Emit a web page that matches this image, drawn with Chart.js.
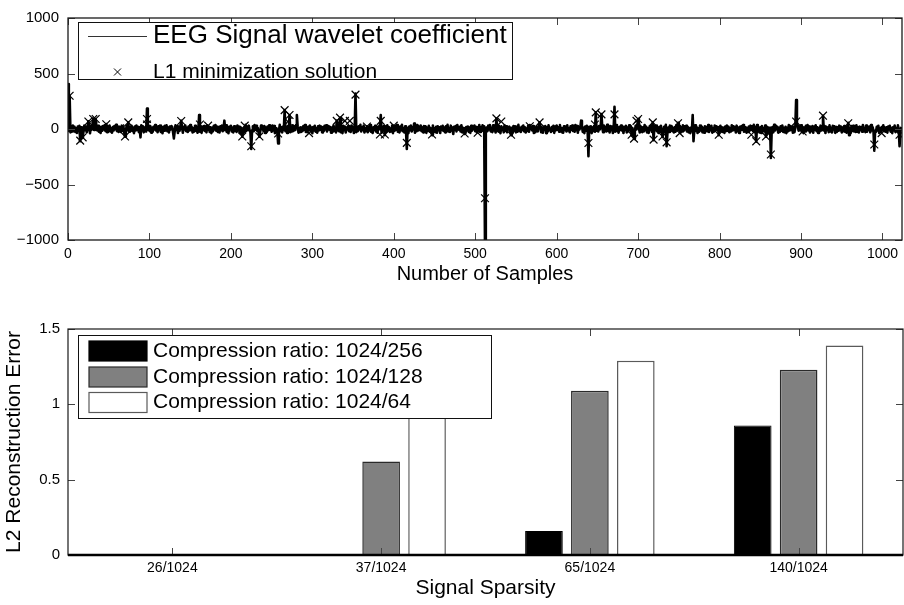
<!DOCTYPE html>
<html>
<head>
<meta charset="utf-8">
<script src="https://cdn.jsdelivr.net/npm/chart.js@4.4.0/dist/chart.umd.min.js"></script>
<style>
  body { margin: 0; background: #fff; }
  #wrap { position: relative; width: 904px; height: 605px; }
  canvas { position: absolute; left: 0; display: block; }
  #coefChart { top: 0; }
  #errChart { top: 290px; }
</style>
</head>
<body>
<div id="wrap">
  <canvas id="coefChart" width="904" height="290"></canvas>
  <canvas id="errChart" width="904" height="315"></canvas>
</div>
<script>
var FONT = "'Liberation Sans', Arial, Helvetica, sans-serif";

// ---- top plot: wavelet coefficients (1024 samples), the dense band around 0
var coefBand = [
  12,-18,25,-30,8,-22,31,-14, 19,-27,6,-35,22,-9,28,-20, 15,-33,10,-24,30,-11,21,-29, 4,-17,26,-38,13,-6,33,-21,
  -8,24,-31,17,-12,29,-25,9, -36,20,-15,27,-4,34,-19,11, -28,23,-10,32,-23,7,-34,18, -13,26,-2,37,-16,14,-27,21,
  9,-26,30,-15,23,-32,5,-20, 27,-11,36,-24,16,-7,29,-18, 12,-37,22,-14,31,-9,18,-28, 3,-21,34,-12,25,-30,8,-19,
  -22,14,-6,32,-17,26,-33,11, -25,20,-3,35,-13,18,-29,24, -10,30,-26,6,-38,19,-15,28, -8,33,-20,13,-31,22,-5,27,
  17,-29,11,-21,34,-8,24,-36, 7,-16,28,-25,14,-33,20,-4, 31,-19,9,-27,23,-13,35,-10, 18,-31,6,-23,29,-15,12,-34,
  -14,31,-24,8,-35,21,-9,26, -18,12,-30,33,-6,22,-27,15, -37,10,-21,28,-3,36,-16,19, -26,9,-32,24,-11,30,-20,5,
  21,-10,33,-27,14,-38,19,-5, 29,-22,11,-31,25,-16,7,-26, 32,-12,20,-35,16,-3,27,-24, 10,-29,37,-17,23,-8,30,-13,
  -30,16,-12,25,-20,35,-7,29, -15,9,-34,19,-24,31,-2,23, -18,27,-36,13,-28,21,-11,34, -6,18,-25,32,-14,26,-37,8,
  6,-24,28,-13,37,-20,15,-31, 22,-8,30,-19,10,-36,26,-15, 19,-28,4,-22,33,-17,25,-9, 36,-14,21,-33,11,-26,16,-5,
  -19,27,-5,36,-26,12,-29,20, -9,32,-21,14,-38,17,-12,28, -24,6,-33,25,-14,30,-7,22, -31,15,-18,29,-3,34,-23,10,
  26,-7,18,-34,12,-25,32,-17, 5,-30,24,-12,35,-21,9,-28, 16,-37,29,-10,21,-32,13,-4, 27,-19,8,-27,31,-11,20,-36,
  -11,33,-28,10,-19,24,-4,37, -23,15,-8,30,-32,6,-17,25, -29,20,-13,35,-25,11,-36,16, -7,28,-22,19,-34,23,-2,31,
  14,-35,20,-8,27,-18,9,-29, 33,-13,17,-26,4,-21,31,-37, 11,-16,26,-6,35,-24,15,-31, 22,-10,38,-20,6,-32,24,-15,
  -27,8,-37,22,-10,30,-23,16, -4,26,-33,11,-20,36,-14,21, -8,32,-19,14,-30,27,-6,25, -35,12,-16,28,-24,9,-29,35,
  31,-16,7,-28,19,-33,25,-11, 16,-36,21,-6,29,-18,12,-30, 24,-9,37,-23,8,-27,30,-14, 13,-34,19,-7,26,-22,35,-3,
  -6,20,-23,34,-31,9,-16,28, -37,18,-11,23,-26,13,-35,29, -15,22,-2,31,-20,17,-29,7, -12,36,-27,15,-9,33,-18,24,
  23,-31,13,-19,30,-5,36,-22, 10,-28,34,-14,19,-32,6,-17, 28,-25,14,-38,24,-8,11,-30, 33,-16,25,-29,17,-4,21,-26,
  -16,11,-35,27,-7,23,-30,13, -24,37,-18,8,-27,20,-9,32, -21,16,-31,4,-17,29,-25,36, -2,21,-13,26,-36,12,-28,18,
  8,-21,36,-16,25,-29,12,-34, 20,-5,27,-37,15,-23,33,-10, 6,-26,18,-15,28,-35,23,-12, 31,-7,14,-24,35,-19,10,-31,
  -33,25,-9,19,-23,33,-14,6, -29,24,-6,31,-18,10,-25,36, -11,27,-34,21,-5,15,-20,30, -26,10,-37,22,-15,28,-8,14,
  19,-12,24,-37,9,-19,28,-25, 35,-16,8,-22,27,-4,20,-33, 14,-29,31,-7,18,-23,37,-16, 5,-32,26,-11,22,-36,13,-20,
  -24,35,-18,5,-33,18,-8,31, -14,22,-36,17,-6,28,-31,12, -20,34,-10,26,-37,9,-27,19, -17,30,-4,36,-21,7,-32,25,
  11,-28,16,-23,36,-11,21,-32, 7,-35,19,-9,32,-27,14,-18, 25,-4,30,-20,10,-36,17,-26, 29,-13,9,-34,20,-25,37,-8,
  -36,13,-27,30,-4,26,-19,10, -31,16,-24,36,-12,19,-7,27, -35,11,-22,33,-15,24,-3,29, -23,17,-30,8,-37,14,-19,32,
  27,-9,34,-18,15,-36,6,-24, 30,-14,23,-30,9,-34,25,-12, 18,-21,35,-27,13,-10,28,-33, 7,-25,31,-16,24,-6,18,-28,
  -4,29,-21,14,-27,11,-35,23, -17,31,-10,20,-29,7,-22,34, -13,25,-8,18,-32,30,-19,12, -36,19,-12,27,-5,35,-25,16,
  16,-33,9,-26,22,-15,30,-7, 25,-19,37,-28,18,-11,35,-23, 8,-31,15,-36,27,-18,6,-21, 32,-9,20,-37,14,-27,11,-35,
  -20,18,-30,37,-14,31,-2,20, -33,8,-27,24,-16,32,-26,9, -30,19,-37,11,-21,35,-14,26, -9,23,-33,17,-28,12,-4,30,
  30,-15,21,-11,33,-26,17,-37, 13,-23,29,-5,36,-13,22,-31, 10,-18,26,-34,20,-6,33,-19, 15,-36,8,-22,30,-14,27,-10,
  -12,26,-36,21,-8,14,-28,33, -22,11,-31,28,-3,24,-35,17, -27,7,-16,30,-11,22,-31,14, -19,27,-24,6,-33,20,-16,36,
  7,-37,27,-17,29,-21,11,-27, 34,-25,15,-32,21,-8,18,-24, 36,-13,9,-28,32,-25,19,-9, 23,-30,36,-12,16,-20,29,-13,
  -25,19,-14,29,-36,6,-23,17, -10,34,-20,13,-25,15,-33,22, -4,28,-24,9,-37,16,-12,31, -28,8,-18,33,-12,25,-31,20
];

// large coefficients sticking out of the band
var spikeIdx = [0, 2, 15, 18, 25, 31, 34, 47, 70, 74, 89, 97, 130, 139, 161, 192, 214, 225, 235, 258,
  266, 272, 281, 330, 334, 353, 384, 389, 416, 425, 447, 473, 487, 512, 526, 544, 579, 630, 639, 648,
  655, 671, 692, 695, 700, 718, 719, 730, 735, 749, 767, 768, 799, 845, 857, 863, 894, 927, 958, 959,
  990, 1021];
var spikeVal = [405, 300, -110, -80, 70, 95, 90, 45, -70, 60, -75, 185, -85, 75, 125, 75, -70, -180, -70, -130,
  170, 125, 126, 75, 100, 320, 125, -55, -180, 50, -55, -45, -45, -1060, 95, -55, 60, 75, -245, 150,
  135, 200, -55, -90, 90, 60, -100, -70, -155, 55, 125, -110, -55, -115, -70, -260, 260, 120, 55, -55,
  -195, -155];

// L1 minimization solution (visible markers)
var l1Idx = [0, 2, 15, 18, 25, 31, 34, 47, 64, 70, 74, 97, 97, 139, 162, 172, 214, 217, 225, 235,
  258, 266, 270, 272, 296, 330, 334, 340, 346, 353, 367, 383, 384, 389, 400, 416, 447, 487, 503, 512,
  526, 532, 544, 567, 579, 639, 647, 648, 655, 671, 692, 695, 698, 700, 718, 719, 730, 735, 749, 751,
  799, 839, 845, 857, 863, 894, 902, 927, 958, 990, 999, 1021];
var l1Val = [0, 300, -105, -75, 67, 90, 90, 43, 7, -67, 60, 90, 40, 72, 40, 30, -67, 30, -155, -67,
  -40, 170, 67, 126, -37, 73, 102, 73, 73, 310, 22, -50, 73, -50, 30, -125, -50, -40, -33, -624,
  96, 67, -52, 25, 60, -126, 40, 150, 132, 132, -52, -87, 73, 90, 60, -96, -67, -120, 52, -37,
  -52, -52, -111, -67, -230, 67, -22, 120, 52, -140, -37, -52];

var sampleTicks = [0, 100, 200, 300, 400, 500, 600, 700, 800, 900, 1000];

// ---- bottom plot
var sparsity = ['26/1024', '37/1024', '65/1024', '140/1024'];
var err256 = [0, 0, 0.16, 0.86];
var err128 = [0, 0.62, 1.09, 1.23];
var err64 = [0, 1.25, 1.29, 1.39];

function coefPoints() {
  var pts = coefBand.map(function (v, i) { return { x: i, y: v }; });
  spikeIdx.forEach(function (idx, k) { pts[idx].y = spikeVal[k]; });
  return pts;
}

function l1Points() {
  return l1Idx.map(function (idx, k) { return { x: idx, y: l1Val[k] }; });
}

// matlab style box with inward ticks on all four sides
var frame = {
  id: 'frame',
  afterDatasetsDraw: function (chart, args, opts) {
    var ctx = chart.ctx, a = chart.chartArea;
    var xs = chart.scales.x, ys = chart.scales.y;
    ctx.save();
    ctx.strokeStyle = '#444';
    ctx.lineWidth = 1;
    ctx.beginPath();
    xs.ticks.forEach(function (t, i) {
      var px = Math.round(xs.getPixelForTick(i)) + 0.5;
      ctx.moveTo(px, a.bottom); ctx.lineTo(px, a.bottom - 7);
      ctx.moveTo(px, a.top); ctx.lineTo(px, a.top + 7);
    });
    ys.ticks.forEach(function (t, i) {
      var py = Math.round(ys.getPixelForTick(i)) + 0.5;
      ctx.moveTo(a.left, py); ctx.lineTo(a.left + 7, py);
      ctx.moveTo(a.right, py); ctx.lineTo(a.right - 7, py);
    });
    ctx.stroke();
    ctx.strokeStyle = '#1a1a1a';
    ctx.lineWidth = opts.lineWidth || 1;
    ctx.strokeRect(a.left, a.top, a.right - a.left, a.bottom - a.top);
    if (opts.baseline) {
      var y0 = ys.getPixelForValue(0);
      ctx.strokeStyle = '#000';
      ctx.lineWidth = 2.5;
      ctx.beginPath();
      ctx.moveTo(a.left, y0); ctx.lineTo(a.right, y0);
      ctx.stroke();
    }
    ctx.restore();
  }
};

// legend box drawn inside the plot area
var boxLegend = {
  id: 'boxLegend',
  afterDraw: function (chart, args, o) {
    var ctx = chart.ctx;
    ctx.save();
    ctx.fillStyle = '#fff';
    ctx.fillRect(o.left, o.top, o.width, o.height);
    ctx.strokeStyle = '#111';
    ctx.lineWidth = 1;
    ctx.strokeRect(o.left + 0.5, o.top + 0.5, o.width, o.height);
    ctx.textBaseline = 'middle';
    chart.data.datasets.forEach(function (ds, i) {
      var row = o.rows[i];
      var sx = o.left + o.swatchX;
      if (row.kind === 'line') {
        ctx.strokeStyle = '#333';
        ctx.lineWidth = 1;
        ctx.beginPath();
        ctx.moveTo(sx, row.y + 0.5); ctx.lineTo(sx + o.swatchW, row.y + 0.5);
        ctx.stroke();
      } else if (row.kind === 'cross') {
        var cx = sx + o.swatchW / 2;
        ctx.strokeStyle = '#000';
        ctx.lineWidth = 1;
        ctx.beginPath();
        ctx.moveTo(cx - 3.5, row.y - 3.5); ctx.lineTo(cx + 3.5, row.y + 3.5);
        ctx.moveTo(cx - 3.5, row.y + 3.5); ctx.lineTo(cx + 3.5, row.y - 3.5);
        ctx.stroke();
      } else {
        ctx.fillStyle = ds.backgroundColor;
        ctx.fillRect(sx, row.y - o.swatchH / 2, o.swatchW, o.swatchH);
        ctx.strokeStyle = ds.borderColor;
        ctx.lineWidth = 1.2;
        ctx.strokeRect(sx, row.y - o.swatchH / 2, o.swatchW, o.swatchH);
      }
      ctx.fillStyle = '#000';
      ctx.font = row.size + 'px ' + FONT;
      ctx.fillText(ds.label, o.left + o.textX, row.y);
    });
    ctx.restore();
  }
};

function tickFont(size) {
  return { family: FONT, size: size };
}

new Chart(document.getElementById('coefChart'), {
  type: 'line',
  data: {
    datasets: [
      {
        label: 'EEG Signal wavelet coefficient',
        data: coefPoints(),
        borderColor: '#000',
        borderWidth: 2.6,
        borderJoinStyle: 'round',
        pointRadius: 0,
        tension: 0,
        order: 1
      },
      {
        label: 'L1 minimization solution',
        data: l1Points(),
        showLine: false,
        pointStyle: 'crossRot',
        pointRadius: 5.5,
        borderColor: '#000',
        borderWidth: 1.2,
        order: 0
      }
    ]
  },
  options: {
    responsive: false,
    animation: false,
    events: [],
    layout: { autoPadding: false, padding: { top: 15, right: 2, left: 0, bottom: 0 } },
    plugins: {
      legend: { display: false },
      tooltip: { enabled: false },
      boxLegend: {
        left: 78, top: 22, width: 434, height: 57,
        swatchX: 10, swatchW: 59, swatchH: 0, textX: 75,
        rows: [{ kind: 'line', y: 36, size: 26 }, { kind: 'cross', y: 72, size: 21 }]
      },
      frame: { lineWidth: 1.3 }
    },
    scales: {
      x: {
        type: 'linear',
        min: 0,
        max: 1024,
        grid: { display: false, drawTicks: false },
        border: { display: false },
        afterBuildTicks: function (s) {
          s.ticks = sampleTicks.map(function (v) { return { value: v }; });
        },
        afterFit: function (s) {
          s.height = 50;
          s.paddingLeft = 0;
          s.paddingRight = 0;
        },
        ticks: {
          padding: 6, color: '#000', font: tickFont(14), maxRotation: 0, autoSkip: false,
          callback: function (v) { return String(v); }
        },
        title: { display: true, text: 'Number of Samples', color: '#000', font: tickFont(20), padding: { top: 0, bottom: 4 } }
      },
      y: {
        min: -1000,
        max: 1000,
        grid: { display: false, drawTicks: false },
        border: { display: false },
        afterFit: function (s) { s.width = 68; },
        ticks: {
          stepSize: 500, padding: 9, color: '#000', font: tickFont(15),
          callback: function (v) { return v < 0 ? '\u2212' + (-v) : String(v); }
        }
      }
    }
  },
  plugins: [frame, boxLegend]
});

new Chart(document.getElementById('errChart'), {
  type: 'bar',
  data: {
    labels: sparsity,
    datasets: [
      { label: 'Compression ratio: 1024/256', data: err256, backgroundColor: '#000', borderColor: '#000', borderWidth: 1 },
      { label: 'Compression ratio: 1024/128', data: err128, backgroundColor: '#808080', borderColor: '#2a2a2a', borderWidth: 1.5 },
      { label: 'Compression ratio: 1024/64', data: err64, backgroundColor: '#fff', borderColor: '#5a5a5a', borderWidth: 1.5 }
    ]
  },
  options: {
    responsive: false,
    animation: false,
    events: [],
    layout: { autoPadding: false, padding: { top: 39, right: 1, left: 0, bottom: 0 } },
    datasets: { bar: { categoryPercentage: 0.66, barPercentage: 0.82 } },
    plugins: {
      legend: { display: false },
      tooltip: { enabled: false },
      boxLegend: {
        left: 78, top: 45, width: 413, height: 83,
        swatchX: 11, swatchW: 58, swatchH: 20, textX: 75,
        rows: [{ kind: 'rect', y: 61, size: 21 }, { kind: 'rect', y: 87, size: 21 }, { kind: 'rect', y: 112.5, size: 21 }]
      },
      frame: { lineWidth: 1.2, baseline: true }
    },
    scales: {
      x: {
        grid: { display: false, drawTicks: false },
        border: { display: false },
        afterFit: function (s) { s.height = 50; },
        ticks: { padding: 5, color: '#000', font: tickFont(14), maxRotation: 0 },
        title: { display: true, text: 'Signal Sparsity', color: '#000', font: tickFont(21), padding: { top: 0, bottom: 4 } }
      },
      y: {
        min: 0,
        max: 1.5,
        grid: { display: false, drawTicks: false },
        border: { display: false },
        afterFit: function (s) { s.width = 68; },
        ticks: {
          stepSize: 0.5, padding: 8, color: '#000', font: tickFont(15),
          callback: function (v) { return String(v); }
        },
        title: { display: true, text: 'L2 Reconstruction Error', color: '#000', font: tickFont(21), padding: { top: 2, bottom: 0 } }
      }
    }
  },
  plugins: [frame, boxLegend]
});
</script>
</body>
</html>
